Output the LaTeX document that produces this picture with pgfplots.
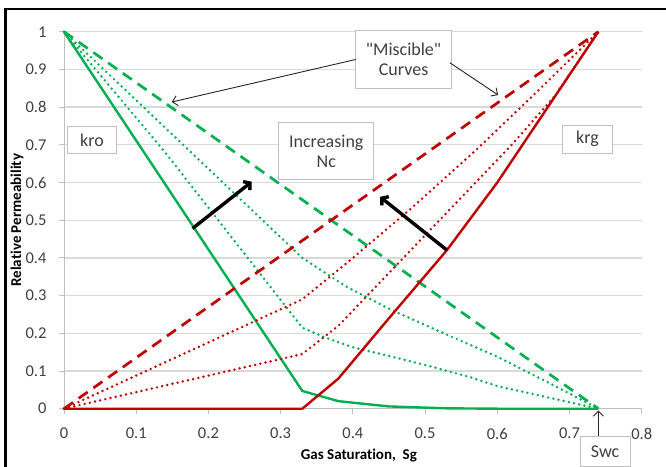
\documentclass[border=0pt]{standalone}
\usepackage{fontspec}
\setmainfont{Carlito}[Ligatures={TeX,NoCommon}]
\usepackage{pgfplots}
\usepackage{pgfplotstable}
\pgfplotsset{compat=1.18}
\usetikzlibrary{arrows.meta}

\definecolor{kgreen}{RGB}{0,176,80}
\definecolor{kred}{RGB}{192,0,0}
\definecolor{gridgray}{RGB}{217,217,217}
\definecolor{axisgray}{RGB}{191,191,191}
\definecolor{txtgray}{RGB}{64,64,64}

% oil relative permeability, kro
\pgfplotstableread{
sg kr
0    1
0.33 0.047
0.38 0.02
0.45 0.006
0.53 0.001
0.60 0
0.74 0
}\kroBase
\pgfplotstableread{
sg kr
0    1
0.14 0.68
0.33 0.215
0.36 0.19
0.40 0.163
0.45 0.14
0.50 0.116
0.56 0.085
0.60 0.06
0.67 0.03
0.74 0
}\kroLow
\pgfplotstableread{
sg kr
0    1
0.33 0.40
0.39 0.325
0.45 0.265
0.52 0.205
0.60 0.138
0.67 0.07
0.74 0
}\kroMid
\pgfplotstableread{
sg kr
0    1
0.74 0
}\kroMisc

% gas relative permeability, krg
\pgfplotstableread{
sg kr
0    0
0.33 0
0.38 0.08
0.45 0.24
0.53 0.42
0.60 0.60
0.67 0.80
0.74 1
}\krgBase
\pgfplotstableread{
sg kr
0    0
0.33 0.145
0.38 0.22
0.42 0.30
0.47 0.40
0.55 0.56
0.62 0.70
0.68 0.83
0.74 1
}\krgLow
\pgfplotstableread{
sg kr
0    0
0.33 0.29
0.40 0.40
0.48 0.53
0.57 0.685
0.66 0.85
0.74 1
}\krgMid
\pgfplotstableread{
sg kr
0    0
0.74 1
}\krgMisc

\tikzset{
  note/.style={draw=axisgray, line width=0.9pt, fill=white, text=txtgray,
    font=\fontsize{18}{20.5}\selectfont, align=center, inner sep=0pt},
  thin arrow/.style={black!85, line width=0.9pt, -{Straight Barb[length=5pt,width=10pt]}},
  thick arrow/.style={black, line width=3.4pt, -{Straight Barb[length=4.5pt,width=11pt]}},
  dotline/.style={line width=2.7pt, line cap=round, dash pattern=on 0pt off 5.3pt},
  dashline/.style={line width=2.7pt, dash pattern=on 11pt off 7pt},
}

\begin{document}
\begin{tikzpicture}[x=1pt,y=1pt]
\useasboundingbox (0,0) rectangle (666,466);
\draw[line width=2.8pt] (5.3,-5) -- (5.3,457) -- (672,457);
\begin{axis}[
  at={(64pt,57.3pt)}, anchor=south west,
  scale only axis, width=577.7pt, height=377pt,
  xmin=0, xmax=0.8, ymin=0, ymax=1,
  xtick={0,0.1,0.2,0.3,0.4,0.5,0.6,0.7,0.8},
  ytick={0,0.1,0.2,0.3,0.4,0.5,0.6,0.7,0.8,0.9,1},
  axis lines=left,
  axis line style={axisgray, line width=1pt, -},
  tick style={axisgray, line width=1pt},
  tick align=outside, major tick length=5pt,
  ymajorgrids, grid style={gridgray, line width=1.2pt},
  clip=false,
  /pgf/number format/assume math mode=true,
  /pgf/number format/fixed, /pgf/number format/precision=1,
  tick label style={font=\fontsize{16.5}{19}\selectfont, text=txtgray},
  xticklabel style={yshift=-11pt},
  yticklabel style={xshift=-9pt},
  xlabel={Gas Saturation,\ \ Sg},
  ylabel={Relative Permeability},
  xlabel style={at={(axis description cs:0.5,0)}, anchor=base, yshift=-51pt, xshift=6pt,
    font=\fontsize{15}{18}\selectfont\bfseries},
  ylabel style={at={(axis description cs:0,0.5)}, anchor=base, yshift=43pt,
    font=\fontsize{15}{18}\selectfont\bfseries},
]
\addplot[kgreen, dashline, mark=none] table[x=sg,y=kr] {\kroMisc};
\addplot[kgreen, dotline, mark=none] table[x=sg,y=kr] {\kroMid};
\addplot[kgreen, dotline, mark=none] table[x=sg,y=kr] {\kroLow};
\addplot[kgreen, line width=2.4pt, line join=round, mark=none] table[x=sg,y=kr] {\kroBase};
\addplot[kred, dashline, mark=none] table[x=sg,y=kr] {\krgMisc};
\addplot[kred, dotline, mark=none] table[x=sg,y=kr] {\krgMid};
\addplot[kred, dotline, mark=none] table[x=sg,y=kr] {\krgLow};
\addplot[kred, line width=2.4pt, line join=round, mark=none] table[x=sg,y=kr] {\krgBase};

% text boxes
\node[note, minimum width=95.6pt, minimum height=58.3pt] at (axis cs:0.4702,0.927) {\textquotedbl Miscible\textquotedbl\\Curves};
\node[note, minimum width=49.4pt, minimum height=26.6pt] at (axis cs:0.0388,0.7127) {kro};
\node[note, minimum width=94.9pt, minimum height=57.3pt] at (axis cs:0.3632,0.683) {Increasing\\Nc};
\node[note, minimum width=49.6pt, minimum height=28.3pt] at (axis cs:0.725,0.715) {krg};
\node[note, minimum width=50pt, minimum height=29.3pt] at (axis cs:0.7493,-0.113) {Swc};

% pointers
\draw[thin arrow] (axis cs:0.4040,0.9263) -- (axis cs:0.1492,0.8135);
\draw[thin arrow] (axis cs:0.5342,0.9178) -- (axis cs:0.6011,0.8321);
\draw[thin arrow] (axis cs:0.74,-0.0724) -- (axis cs:0.74,-0.005);
\draw[thick arrow] (axis cs:0.178,0.478) -- (axis cs:0.26,0.602);
\draw[thick arrow] (axis cs:0.53,0.421) -- (axis cs:0.4377,0.562);
\end{axis}
\end{tikzpicture}
\end{document}
